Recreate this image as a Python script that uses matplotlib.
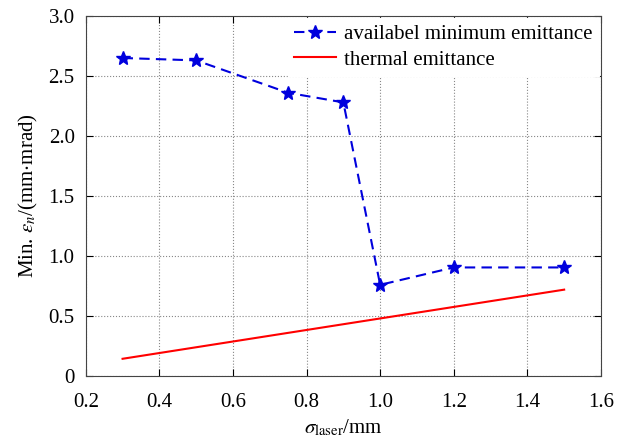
import numpy as np
import matplotlib.pyplot as plt

plt.rcParams['font.family'] = ['Liberation Serif', 'DejaVu Serif']
plt.rcParams['mathtext.fontset'] = 'stix'

# available minimum emittance vs laser spot size
sigma_laser = [0.3, 0.5, 0.75, 0.9, 1.0, 1.2, 1.5]
min_emit = [2.65, 2.63, 2.36, 2.28, 0.76, 0.905, 0.905]

# thermal emittance (linear in sigma)
sigma_thermal = [0.3, 1.5]
thermal_emit = [0.144, 0.72]

x_ticks = [0.2, 0.4, 0.6, 0.8, 1.0, 1.2, 1.4, 1.6]
x_labels = ['0.2', '0.4', '0.6', '0.8', '1.0', '1.2', '1.4', '1.6']
y_ticks = [0, 0.5, 1.0, 1.5, 2.0, 2.5, 3.0]
y_labels = ['0', '0.5', '1.0', '1.5', '2.0', '2.5', '3.0']

fig = plt.figure(figsize=(6.26, 4.44), dpi=100)
ax = fig.add_axes([0.137, 0.153, 0.823, 0.811])

ax.plot(sigma_laser, min_emit, color='#0000dd', linestyle='--', linewidth=1.5,
        marker='*', markersize=10, dashes=(5, 3), label='availabel minimum emittance')
ax.plot(sigma_thermal, thermal_emit, color='red', linewidth=1.5, label='thermal emittance')

ax.set_xlim(0.2, 1.6)
ax.set_ylim(0, 3.0)
ax.set_xticks(x_ticks)
ax.set_xticklabels(x_labels)
ax.set_yticks(y_ticks)
ax.set_yticklabels(y_labels)
ax.tick_params(direction='in', top=True, right=True, labelsize=15, length=5)
ax.tick_params(axis='x', pad=12)
ax.tick_params(axis='y', pad=8)
ax.grid(True, linestyle=':', color='#888888', linewidth=0.8)
for s in ax.spines.values():
    s.set_color('#444444')

ax.set_xlabel(r'$\sigma_{\mathrm{laser}}$/mm', fontsize=15, labelpad=4)
ax.set_ylabel(r'Min. $\varepsilon_n$/(mm$\cdot$mrad)', fontsize=15, labelpad=6)

leg = ax.legend(loc='upper right', fontsize=15, frameon=True, fancybox=False,
                borderaxespad=0.1, handlelength=2.0, handletextpad=0.4,
                labelspacing=0.3, borderpad=0.3)
leg.get_frame().set_edgecolor('white')
leg.get_frame().set_alpha(1)

fig.savefig('out.png', dpi=100)
